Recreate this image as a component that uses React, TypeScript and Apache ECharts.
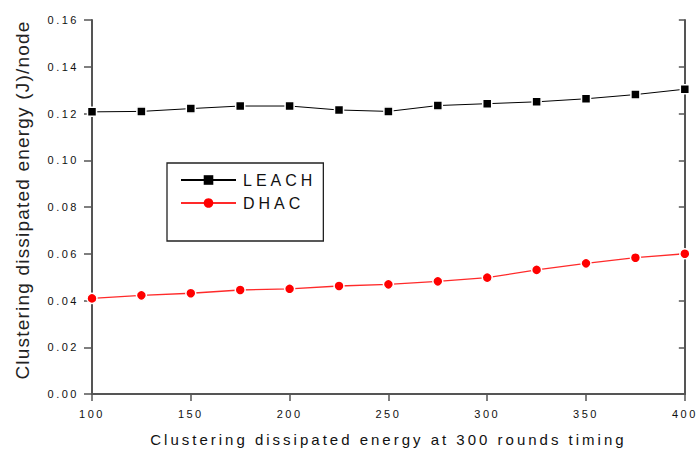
import React, { useEffect, useRef } from "react";
import * as echarts from "echarts";

const xValues = [100, 125, 150, 175, 200, 225, 250, 275, 300, 325, 350, 375, 400];
const leachValues = [0.1207, 0.1209, 0.1221, 0.1232, 0.1232, 0.1215, 0.1209, 0.1234, 0.1242, 0.125, 0.1263, 0.1281, 0.1304];
const dhacValues = [0.0409, 0.0422, 0.0431, 0.0445, 0.045, 0.0462, 0.0469, 0.0482, 0.0498, 0.0531, 0.0559, 0.0583, 0.06];
const seriesNames = ["LEACH", "DHAC"];
const xAxisName = "Clustering dissipated energy at 300 rounds timing";
const yAxisName = "Clustering dissipated energy (J)/node";

const FONT = "Liberation Sans, Arial, sans-serif";
const AXIS_COLOR = "#555";

export default function App() {
  const ref = useRef<HTMLDivElement>(null);

  useEffect(() => {
    if (!ref.current) return;
    const chart = echarts.init(ref.current, undefined, { renderer: "svg" });
    const axisLine = { show: true, lineStyle: { color: AXIS_COLOR, width: 2 } };
    const option = {
      animation: false,
      backgroundColor: "#fff",
      grid: { left: 92, right: 12, top: 20, bottom: 58 },
      xAxis: [
        {
          type: "value",
          position: "bottom",
          min: 100,
          max: 400,
          interval: 50,
          axisLine,
          axisTick: { show: true, inside: false, length: 7, lineStyle: { color: AXIS_COLOR, width: 1.5 } },
          axisLabel: { margin: 14, fontSize: 11, color: "#111", fontFamily: FONT },
          splitLine: { show: false },
          name: xAxisName,
          nameLocation: "middle",
          nameGap: 38,
          nameTextStyle: { fontSize: 15, color: "#111", fontFamily: FONT },
        },
        {
          type: "value",
          position: "top",
          min: 100,
          max: 400,
          interval: 50,
          axisLine,
          axisTick: { show: false },
          axisLabel: { show: false },
          splitLine: { show: false },
        },
      ],
      yAxis: [
        {
          type: "value",
          position: "left",
          min: 0,
          max: 0.16,
          interval: 0.02,
          axisLine,
          axisTick: { show: true, inside: false, length: 8, lineStyle: { color: AXIS_COLOR, width: 1.5 } },
          axisLabel: {
            margin: 13,
            fontSize: 11,
            color: "#111",
            fontFamily: FONT,
            formatter: (v: number) => v.toFixed(2),
          },
          splitLine: { show: false },
          name: yAxisName,
          nameLocation: "middle",
          nameGap: 60,
          nameTextStyle: { fontSize: 19, color: "#222", fontFamily: FONT, padding: [0, 0, 0, 14] },
        },
        {
          type: "value",
          position: "right",
          min: 0,
          max: 0.16,
          interval: 0.02,
          axisLine,
          axisTick: { show: true, inside: true, length: 6, lineStyle: { color: AXIS_COLOR, width: 1.5 } },
          axisLabel: { show: false },
          splitLine: { show: false },
        },
      ],
      legend: {
        data: seriesNames,
        orient: "vertical",
        left: 167,
        top: 163,
        itemWidth: 55,
        itemHeight: 12,
        itemGap: 7,
        borderColor: "#222",
        borderWidth: 1.3,
        padding: [9, 27, 30, 13],
        textStyle: { fontSize: 16, color: "#111", fontFamily: FONT, padding: [0, 0, 0, 2] },
        itemStyle: { borderWidth: 0 },
      },
      series: [
        {
          name: seriesNames[0],
          type: "line",
          xAxisIndex: 0,
          yAxisIndex: 0,
          data: xValues.map((x, i) => [x, leachValues[i]]),
          symbol: "rect",
          symbolSize: 9,
          lineStyle: { color: "#000", width: 1 },
          itemStyle: { color: "#000", borderColor: "#fff", borderWidth: 1.5 },
          clip: false,
        },
        {
          name: seriesNames[1],
          type: "line",
          xAxisIndex: 0,
          yAxisIndex: 0,
          data: xValues.map((x, i) => [x, dhacValues[i]]),
          symbol: "circle",
          symbolSize: 10,
          lineStyle: { color: "#ff2a2a", width: 1.3 },
          itemStyle: { color: "#ff0000", borderColor: "#fff", borderWidth: 1.5 },
          clip: false,
        },
      ],
    };
    chart.setOption(option as any);
    return () => chart.dispose();
  }, []);

  return (
    <>
      <style>{`
        #chartbox text[style*="11px"] { letter-spacing: 2.5px; }
        #chartbox text[style*="15px"] { letter-spacing: 3px; }
        #chartbox text[style*="16px"] { letter-spacing: 4px; }
        #chartbox text[style*="19px"] { letter-spacing: 1.2px; }
      `}</style>
      <div
        id="chartbox"
        ref={ref}
        style={{ position: "absolute", left: 0, top: 0, width: 697, height: 452, background: "#fff" }}
      />
    </>
  );
}
